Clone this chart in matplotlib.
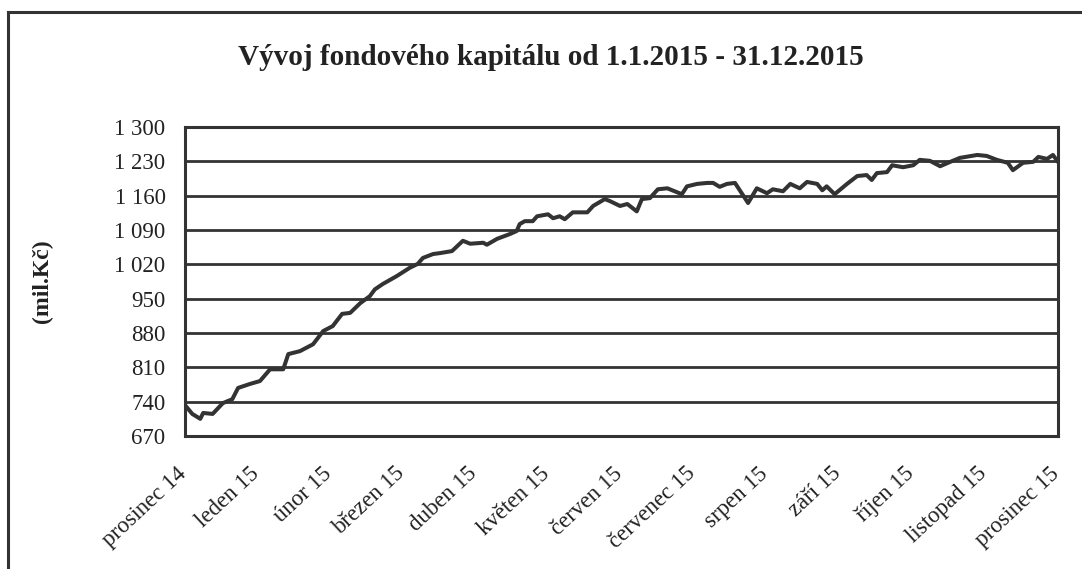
import matplotlib
matplotlib.use("Agg")
import matplotlib.pyplot as plt
import matplotlib.transforms as mtransforms
from matplotlib.ticker import FuncFormatter
from matplotlib.lines import Line2D

title = "Vývoj fondového kapitálu od 1.1.2015 - 31.12.2015"
ylabel = "(mil.Kč)"
month_labels = ["prosinec 14", "leden 15", "únor 15", "březen 15", "duben 15",
                "květen 15", "červen 15", "červenec 15", "srpen 15", "září 15",
                "říjen 15", "listopad 15", "prosinec 15"]
y_ticks = [670, 740, 810, 880, 950, 1020, 1090, 1160, 1230, 1300]

# x position in months since "prosinec 14"
months = [0.00, 0.10, 0.21, 0.25, 0.38, 0.52, 0.65, 0.73, 0.89, 1.03,
          1.17, 1.35, 1.42, 1.58, 1.76, 1.90, 2.03, 2.16, 2.27, 2.41,
          2.54, 2.61, 2.72, 2.91, 3.09, 3.20, 3.27, 3.41, 3.51, 3.67,
          3.82, 3.92, 4.10, 4.15, 4.29, 4.47, 4.56, 4.60, 4.67, 4.78,
          4.84, 4.99, 5.06, 5.15, 5.22, 5.33, 5.53, 5.61, 5.77, 5.84,
          5.98, 6.08, 6.21, 6.28, 6.39, 6.50, 6.63, 6.83, 6.90, 7.04,
          7.18, 7.26, 7.35, 7.45, 7.56, 7.74, 7.86, 8.00, 8.08, 8.22,
          8.32, 8.45, 8.55, 8.69, 8.76, 8.82, 8.93, 9.10, 9.24, 9.37,
          9.44, 9.51, 9.65, 9.72, 9.87, 10.01, 10.10, 10.24, 10.38, 10.52,
          10.65, 10.89, 11.02, 11.16, 11.31, 11.38, 11.52, 11.66, 11.73, 11.85,
          11.93, 12.00]
capital = [733, 715, 705, 717, 715, 737, 745, 768, 776, 782,
           806, 806, 837, 843, 857, 884, 894, 919, 921, 941,
           955, 969, 980, 996, 1013, 1021, 1033, 1041, 1043, 1047,
           1068, 1062, 1064, 1060, 1072, 1082, 1088, 1102, 1108, 1108,
           1118, 1122, 1114, 1118, 1112, 1126, 1126, 1139, 1153, 1149,
           1139, 1143, 1128, 1153, 1155, 1173, 1175, 1163, 1179, 1184,
           1186, 1186, 1178, 1184, 1186, 1145, 1175, 1165, 1173, 1169,
           1184, 1175, 1188, 1184, 1171, 1179, 1163, 1184, 1200, 1202,
           1192, 1206, 1208, 1222, 1218, 1222, 1233, 1231, 1220, 1229,
           1237, 1243, 1241, 1233, 1227, 1212, 1227, 1229, 1239, 1235,
           1243, 1229]

ink = "#333333"
plt.rcParams["font.family"] = ["Liberation Serif", "DejaVu Serif"]

W, H = 1082, 569
fig = plt.figure(figsize=(W / 100, H / 100), dpi=100)
fig.patch.set_facecolor("white")

# outer chart frame (top and left edges visible)
fig.add_artist(Line2D([8 / W, 8 / W], [0, 1 - 12 / H], transform=fig.transFigure,
                      color=ink, lw=2.2))
fig.add_artist(Line2D([8 / W, 1], [1 - 12 / H, 1 - 12 / H], transform=fig.transFigure,
                      color=ink, lw=2.2))

left, right, top, bottom = 185, 1058, 127, 436
ax = fig.add_axes([left / W, 1 - bottom / H, (right - left) / W, (bottom - top) / H])

ax.plot(months, capital, color=ink, lw=2.9, solid_joinstyle="round")

ax.set_xlim(0, 12)
ax.set_ylim(670, 1300)
ax.set_yticks(y_ticks)
ax.yaxis.set_major_formatter(FuncFormatter(lambda v, p: f"{int(v):,}".replace(",", " ")))
ax.set_xticks(range(len(month_labels)))
ax.set_xticklabels([])
for lbl in ax.get_yticklabels():
    lbl.set_fontsize(16.5)
ax.tick_params(axis="both", length=0, colors=ink, labelcolor="#222222")
ax.tick_params(axis="y", pad=14)
ax.grid(axis="y", color=ink, lw=2.0)
ax.set_axisbelow(True)
for s in ax.spines.values():
    s.set_color(ink)
    s.set_linewidth(2.2)

# rotated month labels, top-right corner just below each tick position
base = ax.get_xaxis_transform()
offset = mtransforms.ScaledTranslation(-9 / 100, -27 / 100, fig.dpi_scale_trans)
for i, lab in enumerate(month_labels):
    ax.text(i, 0, lab, transform=base + offset, rotation=43, rotation_mode="anchor",
            ha="right", va="top", fontsize=16.5, color="#222222", clip_on=False)

fig.text(42 / W, 1 - 281 / H, ylabel, rotation=90, ha="center", va="center",
         fontsize=17, fontweight="bold", color="#222222")
fig.text(551 / W, 1 - 57 / H, title, ha="center", va="center",
         fontsize=21, fontweight="bold", color="#222222")

fig.savefig("out.png", dpi=100, facecolor="white")
